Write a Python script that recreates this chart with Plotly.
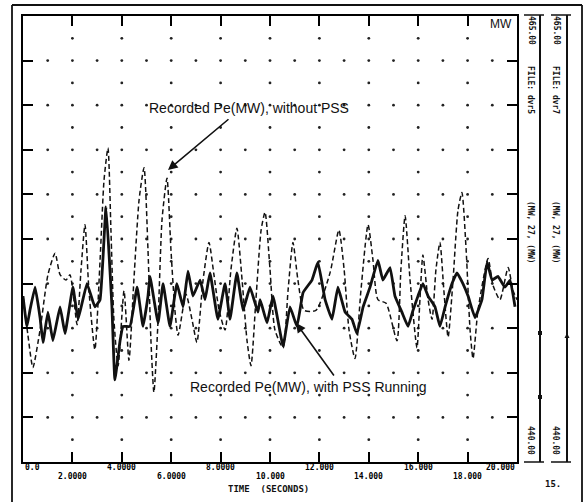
import plotly.graph_objects as go

# ---------------- data ----------------
t_without = [0.00, 0.20, 0.40, 0.69, 1.01, 1.30, 1.50, 1.74, 1.90, 2.02, 2.19, 2.35, 2.51, 2.67, 2.91,
             3.12, 3.28, 3.44, 3.56, 3.68, 3.85, 4.09, 4.29, 4.49, 4.70, 4.90, 5.06, 5.18, 5.30, 5.47,
             5.63, 5.83, 5.99, 6.15, 6.28, 6.60, 6.84, 7.04, 7.29, 7.53, 7.73, 7.94, 8.18, 8.42, 8.66,
             8.87, 9.07, 9.23, 9.43, 9.64, 9.80, 10.00, 10.20, 10.53, 10.73, 10.93, 11.13, 11.38, 11.86,
             12.43, 12.79, 13.00, 13.20, 13.44, 13.68, 13.97, 14.17, 14.37, 14.70, 15.14, 15.30, 15.47,
             15.67, 15.95, 16.07, 16.19, 16.40, 16.56, 16.72, 16.88, 17.04, 17.21, 17.41, 17.61, 17.77,
             17.94, 18.10, 18.22, 18.42, 18.83, 19.03, 19.31, 19.64, 19.84, 20.00]
pe_without = [449.3, 447.1, 445.3, 447.4, 450.5, 451.7, 450.5, 450.2, 450.5, 449.6, 447.7, 450.8, 453.3, 449.6, 446.3,
              451.3, 455.8, 457.6, 453.0, 448.0, 445.4, 449.6, 445.7, 450.2, 454.7, 456.5, 451.9, 446.8, 443.9, 448.0,
              453.6, 455.9, 451.9, 448.5, 447.1, 449.4, 448.0, 446.7, 450.2, 452.3, 450.5, 448.5, 447.4, 450.8, 453.1,
              450.2, 446.8, 445.4, 449.1, 453.0, 454.0, 450.8, 447.4, 446.4, 449.6, 452.3, 450.2, 448.5, 448.5,
              450.6, 453.0, 450.8, 447.4, 445.8, 449.6, 453.3, 451.3, 449.1, 448.9, 446.8, 450.8, 453.8,
              450.2, 446.4, 449.1, 451.6, 449.1, 448.0, 450.8, 452.3, 449.6, 447.0, 450.2, 454.1, 455.1,
              451.9, 447.4, 445.8, 448.5, 451.4, 449.9, 449.1, 450.9, 449.6, 449.1]

t_with = [0.00, 0.16, 0.28, 0.49, 0.69, 0.81, 1.01, 1.21, 1.50, 1.70, 2.02, 2.23, 2.59, 2.91, 3.12, 3.36,
          3.60, 3.72, 3.93, 4.05, 4.33, 4.62, 4.86, 5.06, 5.14, 5.47, 5.67, 5.95, 6.23, 6.48, 6.68, 6.88,
          7.17, 7.37, 7.57, 7.89, 8.18, 8.38, 8.66, 8.91, 9.19, 9.51, 9.60, 9.88, 10.12, 10.53, 10.81,
          11.09, 11.34, 11.70, 11.94, 12.23, 12.51, 12.75, 13.04, 13.32, 13.52, 13.77, 14.05, 14.37,
          14.57, 14.86, 15.06, 15.34, 15.59, 15.79, 15.99, 16.19, 16.40, 16.68, 16.88, 17.09, 17.37,
          17.57, 17.81, 18.02, 18.30, 18.58, 18.79, 18.99, 19.23, 19.51, 19.72, 19.92]
pe_with = [449.3, 447.6, 448.5, 449.8, 448.1, 446.7, 448.4, 446.8, 448.7, 447.2, 449.8, 448.0, 450.0, 448.7, 449.1, 454.3,
           448.7, 444.6, 446.8, 447.6, 447.6, 449.8, 447.6, 449.3, 450.4, 447.8, 450.0, 447.6, 450.0, 448.7, 450.7, 449.3,
           450.2, 449.1, 450.6, 448.0, 450.0, 448.0, 450.6, 448.5, 449.8, 448.4, 449.1, 447.8, 449.3, 446.5, 448.7,
           447.6, 449.5, 450.2, 451.2, 449.1, 448.0, 449.8, 448.4, 448.0, 447.2, 448.7, 449.8, 451.3,
           450.2, 450.9, 449.3, 448.4, 447.6, 448.5, 449.3, 450.0, 449.3, 448.7, 447.6, 448.7, 450.0,
           450.6, 450.0, 449.3, 448.1, 449.1, 451.2, 450.2, 450.4, 449.8, 450.2, 448.7]

x_tick_vals = [0, 2, 4, 6, 8, 10, 12, 14, 16, 18, 20]
x_tick_text = ["0.0", "2.0000", "4.0000", "6.0000", "8.0000", "10.000", "12.000", "14.000", "16.000", "18.000", "20.000"]
y_min, y_max = 440.0, 465.0

# ---------------- layout helpers ----------------
W, H = 585, 502
def PX(x):
    return x / W
def PY(y):
    return 1 - y / H

fig = go.Figure()

# dotted grid (major rows every 2.5 MW with dots each second, half rows with dots every 2 s)
gx, gy = [], []
for k in range(1, 10):
    yv = y_min + 2.5 * k
    for s in range(1, 20):
        gx.append(s); gy.append(yv)
for k in range(10):
    yv = y_min + 1.25 + 2.5 * k
    for s in range(2, 20, 2):
        gx.append(s); gy.append(yv)
fig.add_trace(go.Scatter(x=gx, y=gy, mode="markers", marker=dict(size=2.8, color="#222"),
                         hoverinfo="skip", showlegend=False))

fig.add_trace(go.Scatter(x=t_without, y=pe_without, mode="lines",
                         line=dict(color="#111", width=1.5, dash="5px,3px", shape="spline", smoothing=0.6),
                         showlegend=False, name="without PSS"))
fig.add_trace(go.Scatter(x=t_with, y=pe_with, mode="lines",
                         line=dict(color="#111", width=2.8, shape="spline", smoothing=0.3),
                         showlegend=False, name="with PSS"))

axis_common = dict(showline=True, linecolor="black", linewidth=2, mirror="ticks", ticks="inside",
                   ticklen=10, tickwidth=1.5, tickcolor="black", showgrid=False, zeroline=False,
                   showticklabels=False, fixedrange=True)
fig.update_xaxes(domain=[PX(23), PX(517)], range=[0, 20], dtick=2, tick0=0, **axis_common)
fig.update_yaxes(domain=[PY(462), PY(16)], range=[y_min, y_max], dtick=2.5, tick0=y_min, **axis_common)

ann = []
mono = "DejaVu Sans Mono"
for i, (v, txt) in enumerate(zip(x_tick_vals, x_tick_text)):
    xanchor = "center"
    if i == 0:
        xanchor = "left"
    elif i == len(x_tick_vals) - 1:
        xanchor = "right"
    ann.append(dict(x=v, y=PY(467 if i % 2 == 0 else 476), xref="x", yref="paper", text="<b>%s</b>" % txt,
                    showarrow=False, xanchor=xanchor, yanchor="middle",
                    font=dict(family=mono, size=8, color="#000")))
ann.append(dict(x=PX(268), y=PY(489), xref="paper", yref="paper", text="<b>TIME  (SECONDS)</b>",
                showarrow=False, yanchor="middle", font=dict(family=mono, size=9, color="#111")))
ann.append(dict(x=PX(514), y=PY(24), xref="paper", yref="paper", text="MW", showarrow=False,
                xanchor="right", yanchor="middle", font=dict(family="Liberation Sans", size=12, color="#111")))
ann.append(dict(x=PX(249), y=PY(108), xref="paper", yref="paper", text="Recorded Pe(MW), without PSS",
                showarrow=False, yanchor="middle", font=dict(family="Liberation Sans", size=14, color="#111")))
ann.append(dict(x=PX(308), y=PY(387), xref="paper", yref="paper", text="Recorded Pe(MW), with PSS Running",
                showarrow=False, yanchor="middle", font=dict(family="Liberation Sans", size=14, color="#111")))
# arrows
ann.append(dict(x=PX(168), y=PY(170), xref="paper", yref="paper", text="", showarrow=True,
                ax=62, ay=-52, arrowhead=2, arrowsize=1.2, arrowwidth=1.6, arrowcolor="#111"))
ann.append(dict(x=PX(296), y=PY(323), xref="paper", yref="paper", text="", showarrow=True,
                ax=39, ay=54, arrowhead=2, arrowsize=1.2, arrowwidth=1.6, arrowcolor="#111"))

# right-hand strip labels
for sx, fname in [(531, "FILE: dvr5"), (556, "FILE: dvr7")]:
    for yy, txt in [(30, "465.00"), (90, fname), (232, "(MW, 27, (MW)"), (440, "440.00")]:
        ann.append(dict(x=PX(sx), y=PY(yy), xref="paper", yref="paper", text="<b>%s</b>" % txt,
                        showarrow=False, textangle=90, xanchor="center", yanchor="middle",
                        font=dict(family=mono, size=8, color="#111")))
ann.append(dict(x=PX(563), y=PY(484), xref="paper", yref="paper", text="<b>15.</b>", showarrow=False,
                yanchor="middle", font=dict(family=mono, size=9, color="#111")))
ann.append(dict(x=PX(567), y=PY(333), ax=0, ay=30, xref="paper", yref="paper", text="", showarrow=True,
                arrowhead=2, arrowsize=1, arrowwidth=1, arrowcolor="#111"))

shapes = []
def line(x0, y0, x1, y1, w=1.5, dash=None):
    d = dict(type="line", xref="paper", yref="paper", x0=PX(x0), y0=PY(y0), x1=PX(x1), y1=PY(y1),
             line=dict(color="#111", width=w))
    if dash:
        d["line"]["dash"] = dash
    shapes.append(d)

# outer frame
line(12, 5, 12, 502, 1.8)
line(12, 5, 582, 5, 1.8)
line(582, 5, 582, 502, 1.8)
# strip axes
for lx in (540, 567):
    line(lx, 15, lx, 462, 2)
    line(lx - 16, 15, lx + 4, 15, 1.5)
    line(lx - 16, 462, lx + 4, 462, 1.5)
# legend samples in strips
line(540, 333, 540, 397, 1.5)
shapes.append(dict(type="rect", xref="paper", yref="paper", x0=PX(538), x1=PX(542), y0=PY(331), y1=PY(335),
                   fillcolor="#111", line=dict(width=0)))
shapes.append(dict(type="rect", xref="paper", yref="paper", x0=PX(538), x1=PX(542), y0=PY(395), y1=PY(399),
                   fillcolor="#111", line=dict(width=0)))
line(567, 340, 567, 395, 1.2, "3px,3px")

fig.update_layout(width=W, height=H, margin=dict(l=0, r=0, t=0, b=0), paper_bgcolor="white",
                  plot_bgcolor="white", showlegend=False, annotations=ann, shapes=shapes)
fig.write_html("out.html")
